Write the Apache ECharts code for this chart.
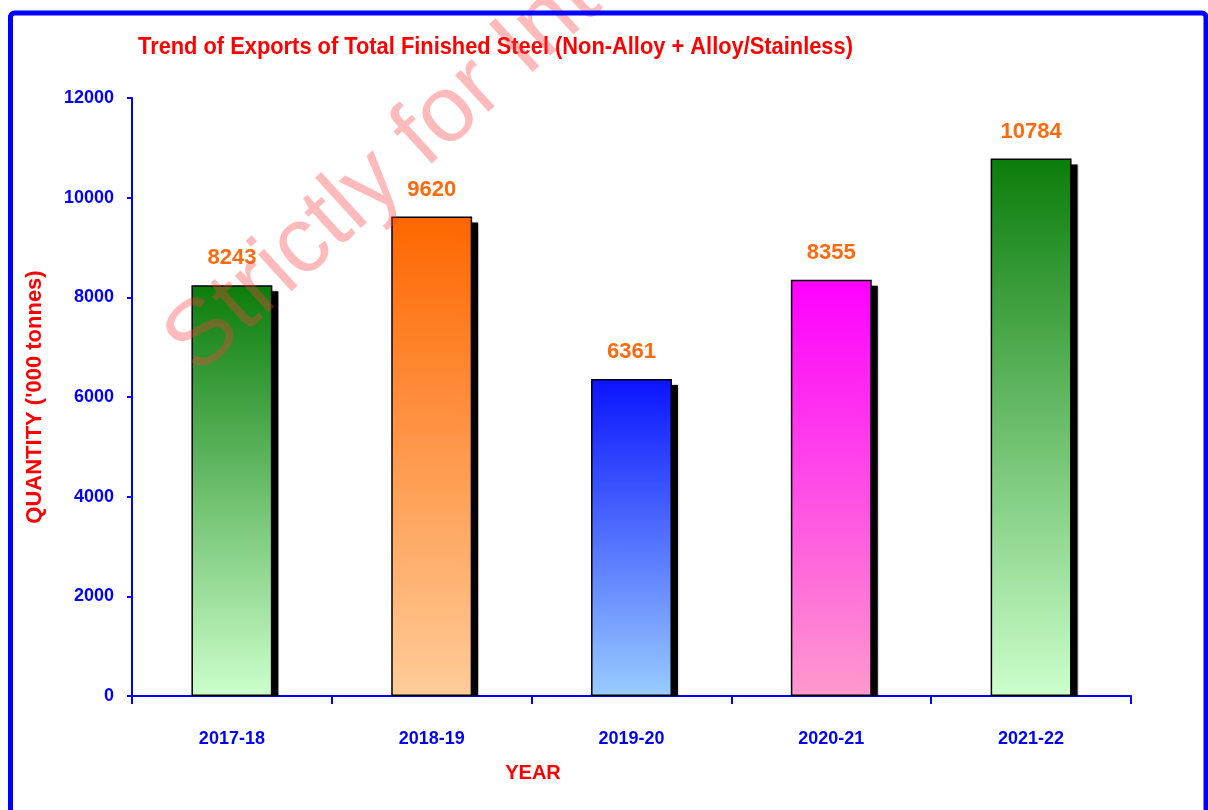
<!DOCTYPE html>
<html>
<head>
<meta charset="utf-8">
<script src="https://cdn.jsdelivr.net/npm/echarts@6/dist/echarts.min.js"></script>
<style>
  html, body { margin: 0; padding: 0; background: #fff; }
  #chart { width: 1208px; height: 810px; }
</style>
</head>
<body>
<div id="chart"></div>
<script>
const categories = ['2017-18', '2018-19', '2019-20', '2020-21', '2021-22'];
const values = [8243, 9620, 6361, 8355, 10784];
const yTicks = [0, 2000, 4000, 6000, 8000, 10000, 12000];
const barTopColors = ['#0b7d0b', '#ff6600', '#0a14ff', '#ff00ff', '#0b7d0b'];
const barBottomColors = ['#ccffcc', '#ffcc99', '#99ccff', '#ff99cc', '#ccffcc'];

const sans = '"Liberation Sans", Arial, sans-serif';
const BAR_FRACTION = 0.405;
const SHADOW_OFFSET = 6;

const chart = echarts.init(document.getElementById('chart'), null, { renderer: 'canvas' });

const frontData = values.map((v, i) => ({
  value: v,
  itemStyle: {
    color: new echarts.graphic.LinearGradient(0, 0, 0, 1, [
      { offset: 0, color: barTopColors[i] },
      { offset: 1, color: barBottomColors[i] }
    ])
  }
}));

chart.setOption({
  animation: false,
  backgroundColor: '#ffffff',
  grid: { left: 132, right: 77, top: 98, bottom: 114 },
  xAxis: {
    type: 'category',
    data: categories,
    axisLine: { lineStyle: { color: '#0000ff', width: 2 } },
    axisTick: { show: true, length: 8, lineStyle: { color: '#0000ff', width: 2 } },
    axisLabel: { color: '#0000ff', fontFamily: sans, fontWeight: 'bold', fontSize: 18, margin: 34 },
    splitLine: { show: false }
  },
  yAxis: {
    type: 'value',
    min: yTicks[0],
    max: yTicks[yTicks.length - 1],
    interval: yTicks[1] - yTicks[0],
    name: "QUANTITY ('000 tonnes)",
    nameLocation: 'middle',
    nameGap: 86,
    nameRotate: 90,
    nameTextStyle: { color: '#ff0000', fontFamily: sans, fontWeight: 'bold', fontSize: 22 },
    axisLine: { show: true, lineStyle: { color: '#0000ff', width: 2 } },
    axisTick: { show: true, inside: false, length: 5, lineStyle: { color: '#0000ff', width: 2 } },
    axisLabel: {
      color: '#0000ff', fontFamily: sans, fontWeight: 'bold', fontSize: 18, margin: 18,
      formatter: v => String(v)
    },
    splitLine: { show: false }
  },
  series: [
    {
      name: 'shadow',
      type: 'custom',
      silent: true,
      z: 1,
      data: values.map((v, i) => [i, v]),
      renderItem: function (params, api) {
        const top = api.coord([api.value(0), api.value(1)]);
        const base = api.coord([api.value(0), 0]);
        const bw = api.size([1, 0])[0] * BAR_FRACTION;
        return {
          type: 'rect',
          shape: {
            x: top[0] - bw / 2 + SHADOW_OFFSET,
            y: top[1] + SHADOW_OFFSET,
            width: bw,
            height: base[1] - top[1] - SHADOW_OFFSET
          },
          style: { fill: '#000000', shadowColor: 'rgba(0,0,0,0.4)', shadowBlur: 2 }
        };
      }
    },
    {
      name: 'Exports',
      type: 'bar',
      data: frontData,
      barWidth: (BAR_FRACTION * 100) + '%',
      itemStyle: { borderColor: '#000000', borderWidth: 1.5 },
      label: {
        show: true,
        position: 'top',
        distance: 16,
        color: '#ff6a0e',
        fontFamily: sans,
        fontWeight: 'bold',
        fontSize: 22
      },
      z: 2
    }
  ],
  graphic: [
    {
      type: 'text',
      z: 50,
      x: 138,
      y: 47,
      scaleX: 0.91,
      style: {
        text: 'Trend of Exports of Total Finished Steel (Non-Alloy + Alloy/Stainless)',
        fill: '#ff0000',
        font: 'bold 24px "Liberation Sans", Arial, sans-serif',
        textAlign: 'left',
        textVerticalAlign: 'middle'
      }
    },
    {
      type: 'text',
      z: 50,
      x: 533,
      y: 773,
      style: {
        text: 'YEAR',
        fill: '#ff0000',
        font: 'bold 20px "Liberation Sans", Arial, sans-serif',
        textAlign: 'center',
        textVerticalAlign: 'middle'
      }
    },
    {
      type: 'rect',
      z: 100,
      shape: { x: 10.5, y: 13, width: 1195.5, height: 900, r: 4 },
      style: { fill: 'none', stroke: '#0000ff', lineWidth: 5 }
    },
    {
      type: 'text',
      z: 90,
      x: 212,
      y: 392,
      rotation: Math.PI * 0.235,
      style: {
        text: 'Strictly for Internal Use',
        fill: 'rgba(255,60,60,0.35)',
        font: '94px "Liberation Sans", Arial, sans-serif',
        textAlign: 'left',
        textVerticalAlign: 'bottom'
      }
    }
  ]
});
</script>
</body>
</html>
